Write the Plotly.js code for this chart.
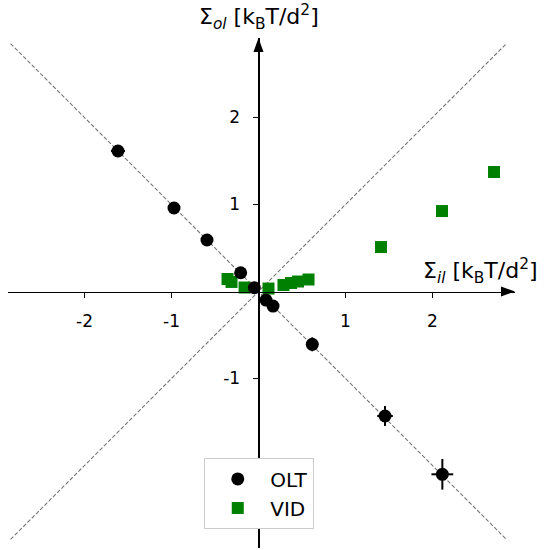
<!DOCTYPE html>
<html>
<head>
<meta charset="utf-8">
<script src="https://cdn.plot.ly/plotly-3.0.1.min.js"></script>
<style>
  body { margin: 0; background: #fff; }
  #myGraph { width: 544px; height: 550px; }
</style>
</head>
<body>
<div id="myGraph"></div>
<script>
// OLT 資料 (黑色圓點, 含誤差)
let olt_x = [-1.615, -0.971, -0.592, -0.205, -0.048, 0.086, 0.167, 0.618, 1.454, 2.113];
let olt_y = [1.615, 0.960, 0.592, 0.216, 0.044, -0.098, -0.167, -0.607, -1.431, -2.101];
let olt_xerr = [0.08, 0.05, 0.04, 0.03, 0.02, 0.02, 0.02, 0.07, 0.09, 0.125];
let olt_yerr = [0.03, 0.03, 0.03, 0.03, 0.02, 0.02, 0.02, 0.08, 0.115, 0.176];

// VID 資料 (綠色方塊)
let vid_x = [-0.356, -0.31, -0.16, 0.115, 0.287, 0.374, 0.454, 0.575, 1.408, 2.109, 2.707];
let vid_y = [0.144, 0.11, 0.046, 0.034, 0.075, 0.098, 0.115, 0.138, 0.511, 0.925, 1.374];

// 參考虛線 y = x , y = -x
let guide_x = [-2.85, 2.85];
let guide_up = [-2.85, 2.85];
let guide_down = [2.85, -2.85];

let xTicks = [-2, -1, 1, 2];
let xTickText = ['-2', '-1', '1', '2'];
let yTicks = [-2, -1, 1, 2];
let yTickText = ['-2', '-1', '1', '2'];

let xRange = [-2.879, 2.948];
let yRange = [-2.948, 2.914];

let myGraph = document.getElementById('myGraph');

let guide1 = {
    type: 'scatter', mode: 'lines',
    x: guide_x, y: guide_up,
    line: { color: '#777777', width: 1.1, dash: '4px,2px' },
    showlegend: false, hoverinfo: 'skip'
};
let guide2 = {
    type: 'scatter', mode: 'lines',
    x: guide_x, y: guide_down,
    line: { color: '#777777', width: 1.1, dash: '4px,2px' },
    showlegend: false, hoverinfo: 'skip'
};

let trace_vid = {
    type: 'scatter', mode: 'markers', name: 'VID',
    x: vid_x, y: vid_y,
    marker: { symbol: 'square', size: 12, color: '#008000' },
    cliponaxis: false
};

let trace_olt = {
    type: 'scatter', mode: 'markers', name: 'OLT',
    x: olt_x, y: olt_y,
    marker: { symbol: 'circle', size: 13, color: '#000000' },
    error_x: { type: 'data', array: olt_xerr, color: '#000000', thickness: 2, width: 0 },
    error_y: { type: 'data', array: olt_yerr, color: '#000000', thickness: 2, width: 0 },
    cliponaxis: false
};

let data = [];
data.push(guide1);
data.push(guide2);
data.push(trace_vid);
data.push(trace_olt);

let fontFamily = 'DejaVu Sans, sans-serif';

let layout = {
    width: 544,
    height: 550,
    margin: { t: 38, r: 29, l: 8, b: 2 },
    paper_bgcolor: '#ffffff',
    plot_bgcolor: '#ffffff',
    font: { family: fontFamily, color: '#000000', size: 17 },
    xaxis: {
        range: xRange,
        anchor: 'free',
        position: (0 - yRange[0]) / (yRange[1] - yRange[0]),
        showgrid: false, zeroline: false,
        showline: true, linecolor: '#000000', linewidth: 1.4,
        ticks: 'outside', ticklen: 5, tickwidth: 1.4, tickcolor: '#000000',
        tickvals: xTicks, ticktext: xTickText,
        ticklabelstandoff: 9,
        automargin: false
    },
    yaxis: {
        range: yRange,
        anchor: 'free',
        position: (0 - xRange[0]) / (xRange[1] - xRange[0]),
        showgrid: false, zeroline: false,
        showline: true, linecolor: '#000000', linewidth: 1.4,
        ticks: 'outside', ticklen: 5, tickwidth: 1.4, tickcolor: '#000000',
        tickvals: yTicks, ticktext: yTickText,
        ticklabelstandoff: 10,
        automargin: false
    },
    showlegend: true,
    legend: {
        x: 0.495, xanchor: 'center',
        y: 0.037, yanchor: 'bottom',
        traceorder: 'reversed',
        bgcolor: '#ffffff',
        bordercolor: '#cccccc', borderwidth: 1.3,
        font: { size: 20, family: fontFamily },
        itemwidth: 55,
        tracegroupgap: 2
    },
    // 軸箭頭 (以像素尺寸畫三角形)
    shapes: [
        { type: 'path', xref: 'x', yref: 'y', xsizemode: 'pixel', ysizemode: 'pixel',
          xanchor: xRange[1], yanchor: 0,
          path: 'M0,0 L-14,5 L-14,-5 Z',
          fillcolor: '#000000', line: { width: 0 }, layer: 'above' },
        { type: 'path', xref: 'x', yref: 'y', xsizemode: 'pixel', ysizemode: 'pixel',
          xanchor: 0, yanchor: yRange[1],
          path: 'M0,0 L5,-14 L-5,-14 Z',
          fillcolor: '#000000', line: { width: 0 }, layer: 'above' }
    ],
    annotations: [
        // 軸標題
        { x: 1.049, y: 0, xref: 'paper', yref: 'y', xanchor: 'right', yanchor: 'bottom', yshift: 3,
          showarrow: false, font: { size: 22, family: fontFamily },
          text: 'Σ<sub><i>il</i></sub> [k<sub>B</sub>T/d<sup>2</sup>]' },
        { x: 0, y: 1, xref: 'x', yref: 'paper', xanchor: 'center', yanchor: 'bottom', yshift: 3,
          showarrow: false, font: { size: 22, family: fontFamily },
          text: 'Σ<sub><i>ol</i></sub> [k<sub>B</sub>T/d<sup>2</sup>]' }
    ]
};

Plotly.newPlot(myGraph, data, layout, { displayModeBar: false, staticPlot: true });
</script>
</body>
</html>
